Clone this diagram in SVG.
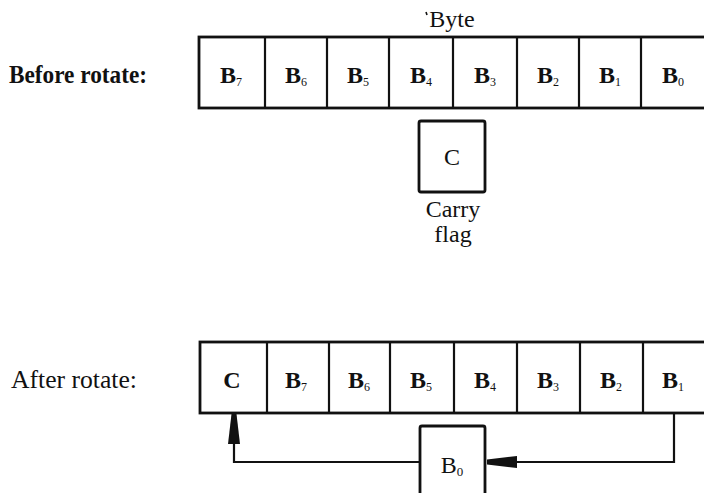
<svg xmlns="http://www.w3.org/2000/svg" width="704" height="493" viewBox="0 0 704 493">
<defs>
<style>
.box{fill:#fff;stroke:#111;stroke-width:2.8}
.ln{fill:none;stroke:#111;stroke-width:2.2}
.lbl{font-family:"Liberation Serif",serif;font-size:25px;fill:#111}
.b{font-family:"Liberation Serif",serif;font-size:24px;font-weight:bold;fill:#111;text-anchor:middle}
.sub{font-size:12px;font-weight:normal}
.t{font-family:"Liberation Serif",serif;font-size:24px;fill:#111;text-anchor:middle}
</style>
<marker id="ah" markerWidth="30" markerHeight="12" refX="30" refY="6" orient="auto" markerUnits="userSpaceOnUse">
<path d="M0,3.5 L30,0 L30,12 L0,8.5 Z" transform="rotate(180 15 6)" fill="#111"/>
</marker>
</defs>
<rect width="704" height="493" fill="#fff"/>
<text class="lbl" x="9" y="83" font-weight="bold" textLength="138" lengthAdjust="spacingAndGlyphs">Before rotate:</text>
<text class="lbl" x="11" y="388" textLength="126" lengthAdjust="spacingAndGlyphs">After rotate:</text>
<g id="byte-label"><text class="t" x="452" y="27">Byte</text><line x1="426" y1="12" x2="427" y2="15" stroke="#111" stroke-width="1.6"/></g>
<g id="before-row">
<rect class="box" x="199" y="37" width="520" height="71"/>
<g class="ln"><line x1="265" y1="37" x2="265" y2="108"/><line x1="327" y1="37" x2="327" y2="108"/><line x1="389" y1="37" x2="389" y2="108"/><line x1="453" y1="37" x2="453" y2="108"/><line x1="517" y1="37" x2="517" y2="108"/><line x1="579" y1="37" x2="579" y2="108"/><line x1="641" y1="37" x2="641" y2="108"/></g>
<text class="b" x="231" y="83">B<tspan class="sub" dy="3">7</tspan></text>
<text class="b" x="296" y="83">B<tspan class="sub" dy="3">6</tspan></text>
<text class="b" x="358" y="83">B<tspan class="sub" dy="3">5</tspan></text>
<text class="b" x="421" y="83">B<tspan class="sub" dy="3">4</tspan></text>
<text class="b" x="485" y="83">B<tspan class="sub" dy="3">3</tspan></text>
<text class="b" x="548" y="83">B<tspan class="sub" dy="3">2</tspan></text>
<text class="b" x="610" y="83">B<tspan class="sub" dy="3">1</tspan></text>
<text class="b" x="673" y="83">B<tspan class="sub" dy="3">0</tspan></text>
</g>
<g id="carry">
<rect class="box" x="419" y="121" width="66" height="71" rx="2"/>
<text class="t" x="452" y="165">C</text>
<text class="t" x="453" y="217">Carry</text>
<text class="t" x="453" y="242">flag</text>
</g>
<g id="after-row">
<rect class="box" x="200" y="342" width="520" height="71"/>
<g class="ln"><line x1="267" y1="342" x2="267" y2="413"/><line x1="329" y1="342" x2="329" y2="413"/><line x1="390" y1="342" x2="390" y2="413"/><line x1="454" y1="342" x2="454" y2="413"/><line x1="517" y1="342" x2="517" y2="413"/><line x1="580" y1="342" x2="580" y2="413"/><line x1="643" y1="342" x2="643" y2="413"/></g>
<text class="b" x="232" y="388">C</text>
<text class="b" x="296" y="388">B<tspan class="sub" dy="3">7</tspan></text>
<text class="b" x="359" y="388">B<tspan class="sub" dy="3">6</tspan></text>
<text class="b" x="421" y="388">B<tspan class="sub" dy="3">5</tspan></text>
<text class="b" x="485" y="388">B<tspan class="sub" dy="3">4</tspan></text>
<text class="b" x="548" y="388">B<tspan class="sub" dy="3">3</tspan></text>
<text class="b" x="611" y="388">B<tspan class="sub" dy="3">2</tspan></text>
<text class="b" x="673" y="388">B<tspan class="sub" dy="3">1</tspan></text>
</g>
<g id="b0">
<rect class="box" x="420" y="426" width="65" height="80" rx="2"/>
<text class="t" x="452" y="473">B<tspan font-size="13" dy="3">0</tspan></text>
</g>
<g id="connectors">
<polyline class="ln" points="674,413 674,462 487,462" marker-end="url(#ah)"/>
<polyline class="ln" points="420,462 234,462 234,414" marker-end="url(#ah)"/>
</g>
</svg>
